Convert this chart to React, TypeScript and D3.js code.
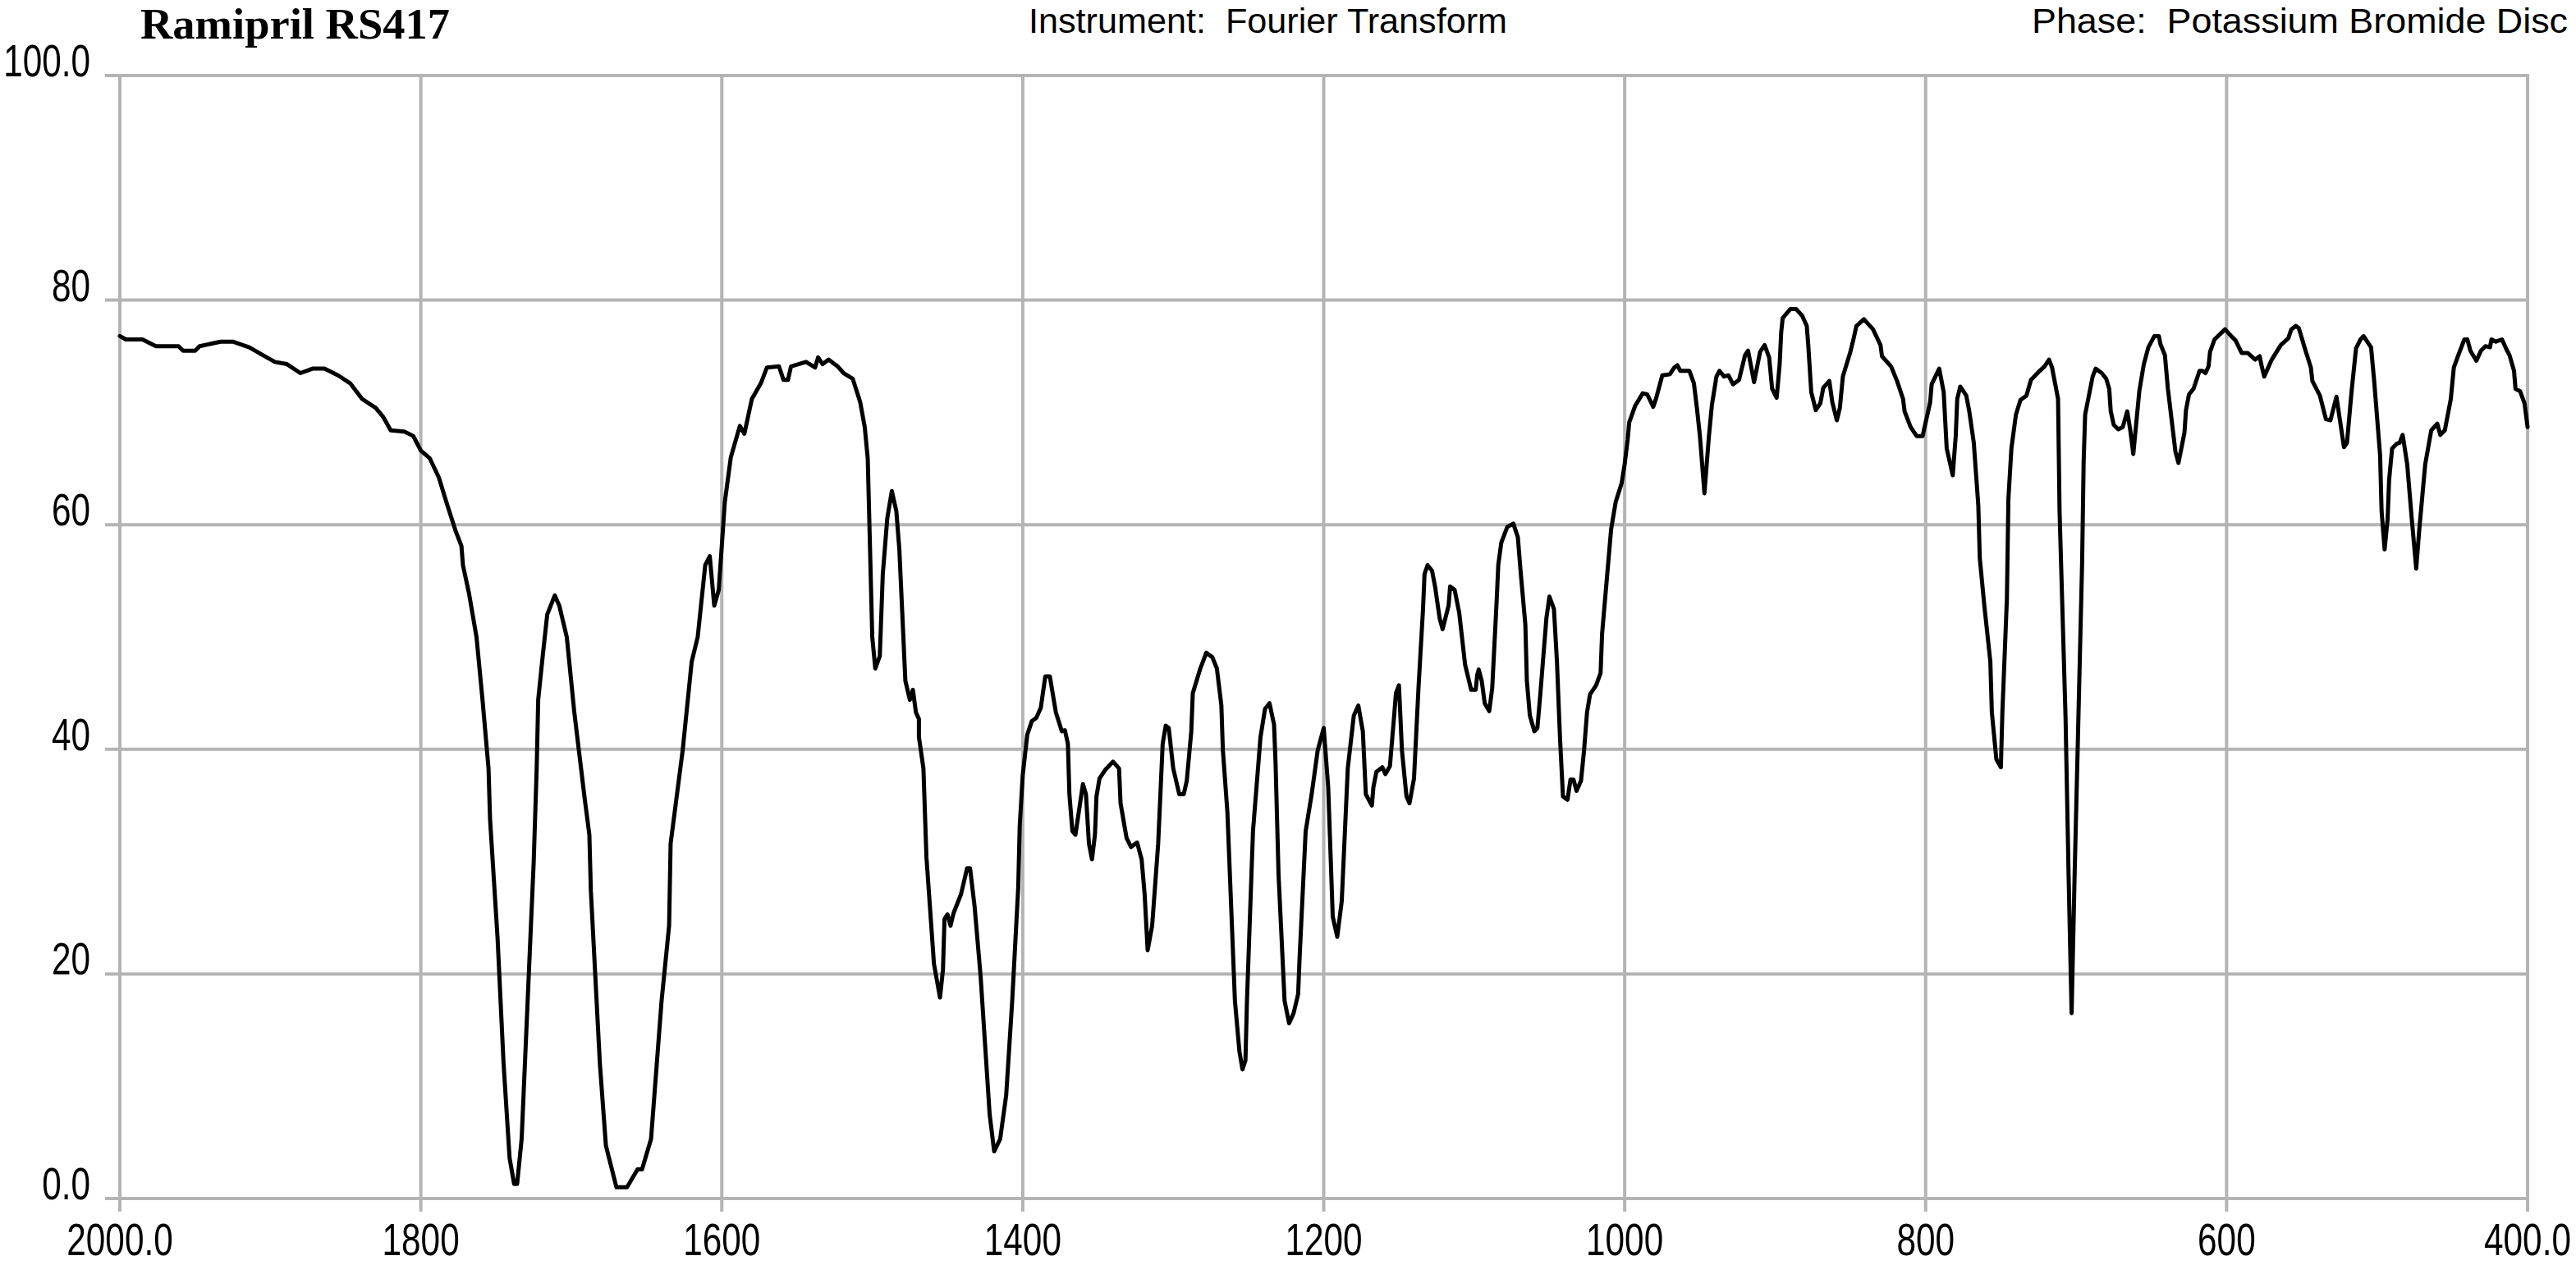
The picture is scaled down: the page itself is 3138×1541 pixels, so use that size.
import React from "react";
import * as d3 from "d3";

const wavenumbers: number[] = [
  2000, 1996, 1985, 1976, 1961, 1958, 1950, 1947, 1933, 1925, 1914, 1905, 1897, 1889, 1880, 1872, 1864, 1855, 1847, 1839,
  1830, 1825, 1820, 1811, 1805, 1800, 1794, 1788, 1783, 1777, 1773, 1772, 1768, 1763, 1759, 1755, 1754, 1749, 1745, 1741,
  1738, 1736, 1733, 1729, 1725, 1723, 1722, 1719, 1716, 1711, 1708, 1703, 1698, 1691, 1688, 1687, 1681, 1677, 1670, 1663,
  1656, 1653, 1647, 1640, 1635, 1634, 1626, 1620,
  1616, 1611, 1608, 1605, 1602, 1598, 1594, 1588, 1585, 1580, 1574, 1570, 1562, 1559, 1556, 1554, 1544, 1538, 1536, 1533,
  1529, 1523, 1519, 1513, 1508, 1505, 1503, 1502, 1500, 1498, 1495, 1493, 1490, 1487, 1484, 1482, 1478, 1475, 1473, 1471,
  1469, 1469, 1466, 1464, 1459, 1455, 1453, 1452, 1450, 1448, 1446, 1441, 1437, 1435, 1432, 1428, 1422, 1419, 1415, 1411,
  1407, 1403, 1402, 1400, 1397, 1394, 1391, 1388, 1385, 1382, 1378, 1374, 1372, 1370, 1369, 1367, 1365, 1360, 1358, 1356,
  1354, 1352, 1351, 1349, 1345, 1340, 1336, 1335, 1331, 1328, 1324, 1321, 1319, 1317, 1314, 1310, 1307, 1305, 1303, 1300,
  1296, 1293, 1291, 1288, 1287, 1282, 1278, 1274, 1271, 1268, 1267, 1264, 1259, 1256, 1254, 1252, 1251, 1247, 1242, 1239,
  1236, 1233, 1232, 1230, 1226, 1223, 1220, 1217, 1216, 1212, 1208, 1204, 1200,
  1197, 1194, 1191, 1188, 1184, 1180, 1177, 1174, 1172, 1168, 1167, 1165, 1161, 1159, 1156, 1153, 1152, 1150, 1148, 1145,
  1143, 1140, 1137, 1134, 1133, 1131, 1128, 1126, 1123, 1121, 1117, 1116, 1113, 1110, 1106, 1102, 1099, 1098, 1097, 1095,
  1093, 1090, 1088, 1085, 1084, 1082, 1078, 1074, 1071, 1069, 1066, 1065, 1063, 1060, 1058, 1056, 1052, 1050, 1047, 1045,
  1043, 1041, 1038, 1036, 1034, 1032, 1029, 1027, 1025, 1023, 1019, 1016, 1015, 1013, 1009, 1006, 1002, 1000, 998, 997,
  993, 988, 985, 981, 979, 975, 970, 967, 965, 963, 957, 954, 952, 950, 947, 944, 942, 939, 937, 934,
  931, 928, 924, 920, 918, 914, 910, 907, 904, 902, 899, 897, 896, 895, 890, 886, 882, 879, 878, 876,
  873, 870, 868, 864, 862, 859, 857, 855, 850, 848, 846, 841, 835, 830, 829, 823, 819, 815, 814, 810,
  806, 802,
  797, 796, 791, 788, 786, 782, 780, 779, 777, 773, 771, 768, 765, 764, 761, 757, 756, 753, 750, 749,
  746, 745, 743, 740, 737, 733, 730, 725, 721, 718, 716, 712, 711, 707, 705, 703, 701, 699, 696, 695,
  694, 689, 687, 683, 680, 678, 677, 675, 672, 669, 666, 664, 662, 658, 655, 652, 648, 645, 644, 641,
  639, 634, 632, 628, 627, 625, 622, 618, 616, 614, 612, 611, 608, 601, 597, 594, 590, 586, 581, 578,
  577, 575, 570, 564, 559, 557, 554, 552, 548, 544, 543, 538, 534, 531, 527, 522, 520, 517, 514, 511,
  509, 504, 502, 498, 497, 495, 493, 492, 490, 487, 485, 483, 480, 477, 474, 472, 468, 464, 460, 458,
  455, 451, 449, 446, 442, 440, 438, 434, 431, 428, 425, 424, 421, 417, 414, 412, 409, 408, 405, 402,
  400,
];

const transmittance: number[] = [
  76.8, 76.5, 76.5, 75.9, 75.9, 75.5, 75.5, 75.9, 76.3, 76.3, 75.8, 75.1, 74.5, 74.3, 73.5, 73.9, 73.9, 73.3, 72.6, 71.2,
  70.4, 69.6, 68.4, 68.3, 67.9, 66.6, 65.9, 64.2, 62.0, 59.5, 58.1, 56.4, 53.9, 50.0, 44.4, 38.3, 33.8, 23.2, 12.0, 3.6,
  1.3, 1.3, 5.3, 17.6, 29.9, 38.3, 44.4, 48.3, 52.0, 53.7, 52.8, 50.0, 43.3, 35.5, 32.4, 27.4, 12.0, 4.7, 1.0, 1.0,
  2.6, 2.6, 5.3, 17.6, 24.3, 31.6, 39.9, 47.8,
  50.0, 56.4, 57.2, 52.8, 54.2, 62.0, 66.0, 68.8, 68.1, 71.2, 72.6, 74.0, 74.1, 72.9, 72.9, 74.1, 74.5, 74.0, 74.9, 74.3,
  74.7, 74.1, 73.5, 73.0, 70.9, 68.7, 65.9, 60.6, 50.0, 47.2, 48.3, 55.6, 60.6, 63.0, 61.2, 57.8, 46.1, 44.4, 45.3, 43.3,
  42.7, 41.1, 38.3, 30.4, 20.9, 17.9, 20.4, 24.9, 25.3, 24.3, 25.4, 27.1, 29.4, 29.4, 26.0, 19.8, 7.5, 4.2, 5.3, 9.2,
  17.6, 27.7, 33.2, 37.7, 41.3, 42.5, 42.8, 43.7, 46.5, 46.5, 43.3, 41.6, 41.7, 40.5, 36.0, 32.7, 32.4, 36.9, 36.0, 31.6,
  30.2, 32.4, 35.8, 37.4, 38.2, 38.9, 38.3, 35.2, 32.1, 31.3, 31.7, 30.2, 27.1, 22.1, 24.3, 31.6, 40.5, 42.1, 41.9, 38.3,
  36.0, 36.0, 37.2, 41.6, 45.0, 47.2, 48.6, 48.2, 47.2, 43.9, 39.9, 34.4, 17.6, 13.1, 11.5, 12.3, 17.6, 32.7, 41.1, 43.6,
  44.1, 42.2, 38.8, 28.8, 17.6, 15.6, 16.5, 18.2, 21.5, 32.7, 36.0, 39.9, 41.9,
  36.6, 25.1, 23.3, 26.5, 38.3, 43.0, 43.9, 41.6, 36.0, 35.0, 36.6, 38.0, 38.4, 37.8, 38.5, 43.3, 45.0, 45.7, 39.9, 35.8,
  35.2, 37.4, 45.5, 52.5, 55.6, 56.4, 55.9, 54.5, 51.7, 50.7, 52.8, 54.5, 54.2, 52.2, 47.5, 45.3, 45.3, 46.6, 47.1, 46.1,
  44.1, 43.4, 45.5, 53.4, 56.4, 58.4, 59.8, 60.1, 58.9, 55.6, 51.1, 46.1, 43.0, 41.6, 41.9, 45.0, 51.7, 53.6, 52.5, 47.8,
  41.1, 35.8, 35.5, 37.3, 37.3, 36.3, 37.2, 39.9, 43.3, 44.9, 45.7, 46.8, 50.3, 53.4, 59.6, 62.0, 63.7, 65.4, 67.6, 69.1,
  70.6, 71.7, 71.6, 70.5, 71.3, 73.3, 73.4, 74.0, 74.2, 73.7, 73.7, 72.6, 70.4, 67.9, 62.8, 67.9, 70.7, 73.2, 73.7, 73.2,
  73.3, 72.5, 72.9, 75.1, 75.5, 72.7, 75.4, 76.0, 74.9, 72.1, 71.3, 74.3, 77.1, 78.4, 79.2, 79.2, 78.6, 77.7, 76.0, 71.8,
  70.2, 70.8, 72.2, 72.8, 70.9, 69.3, 70.4, 73.2, 75.4, 76.5, 77.7, 78.3, 77.4, 76.0, 75.0, 74.1, 72.8, 71.2, 70.1, 68.7,
  67.9, 67.9,
  70.9, 72.5, 73.9, 71.8, 66.8, 64.4, 67.9, 71.2, 72.3, 71.5, 70.1, 67.3, 61.7, 57.0, 52.8, 47.8, 43.3, 39.1, 38.4, 43.3,
  53.4, 62.3, 66.8, 69.8, 71.1, 71.5, 72.9, 73.6, 74.1, 74.7, 74.0, 71.2, 61.2, 42.7, 28.8, 16.5, 28.8, 39.9, 56.7, 65.6,
  69.8, 73.2, 73.9, 73.5, 73.0, 72.1, 70.1, 68.9, 68.5, 68.7, 70.1, 68.4, 66.3, 71.9, 74.3, 75.8, 76.8, 76.8, 76.1, 75.1,
  72.1, 66.5, 65.5, 68.2, 70.2, 71.6, 72.1, 73.7, 73.7, 73.5, 74.1, 75.4, 76.5, 77.4, 76.8, 76.4, 75.3, 75.3, 74.7, 75.0,
  74.3, 73.2, 74.7, 76.0, 76.6, 77.4, 77.7, 77.5, 75.7, 74.0, 72.8, 71.5, 69.4, 69.3, 71.4, 66.9, 67.3, 71.8, 75.7, 76.5,
  76.8, 75.8, 72.9, 66.2, 61.2, 57.8, 60.5, 64.0, 66.8, 67.2, 67.3, 68.0, 65.4, 60.6, 56.1, 59.5, 65.4, 68.4, 69.0, 68.0,
  68.4, 71.2, 74.0, 75.1, 76.5, 76.5, 75.5, 74.6, 75.5, 75.9, 75.8, 76.5, 76.3, 76.5, 75.6, 75.1, 73.7, 72.1, 71.9, 70.8,
  68.7,
];

const xTicks: number[] = [2000, 1800, 1600, 1400, 1200, 1000, 800, 600, 400];
const xTickLabels: string[] = ["2000.0", "1800", "1600", "1400", "1200", "1000", "800", "600", "400.0"];
const yTicks: number[] = [0, 20, 40, 60, 80, 100];
const yTickLabels: string[] = ["0.0", "20", "40", "60", "80", "100.0"];

const title = "Ramipril RS417";
const instrumentText = "Instrument:  Fourier Transform";
const phaseText = "Phase:  Potassium Bromide Disc";

export default function App() {
  const W = 3138;
  const H = 1541;
  const x = d3.scaleLinear().domain([2000, 400]).range([146, 3079]);
  const y = d3.scaleLinear().domain([0, 100]).range([1460, 92]);
  const gridColor = "#b4b4b4";
  const labelFont = "'Liberation Sans', Arial, sans-serif";
  const sx = 0.755;

  const pts = wavenumbers.map((w, i) => [w, transmittance[i]] as [number, number]);
  const line = d3
    .line<[number, number]>()
    .x((d) => x(d[0]))
    .y((d) => y(d[1]))
    .curve(d3.curveLinear);

  return (
    <svg
      width={W}
      height={H}
      style={{ position: "absolute", left: 0, top: 0, background: "#fff" }}
    >
      <rect x={0} y={0} width={W} height={H} fill="#fff" />
      {yTicks.map((t) => (
        <line
          key={"hy" + t}
          x1={128}
          x2={x(400) + 2}
          y1={y(t)}
          y2={y(t)}
          stroke={gridColor}
          strokeWidth={4}
        />
      ))}
      {xTicks.map((t) => (
        <line
          key={"vx" + t}
          x1={x(t)}
          x2={x(t)}
          y1={y(100)}
          y2={1476}
          stroke={gridColor}
          strokeWidth={4}
        />
      ))}
      {yTicks.map((t, i) => (
        <g key={"yl" + t} transform={`translate(110,${y(t) + 1}) scale(${sx},1)`}>
          <text textAnchor="end" fontFamily={labelFont} fontSize={56} fill="#000">
            {yTickLabels[i]}
          </text>
        </g>
      ))}
      {xTicks.map((t, i) => (
        <g key={"xl" + t} transform={`translate(${x(t)},1529) scale(${sx},1)`}>
          <text textAnchor="middle" fontFamily={labelFont} fontSize={56} fill="#000">
            {xTickLabels[i]}
          </text>
        </g>
      ))}
      <path
        d={line(pts) || ""}
        fill="none"
        stroke="#000"
        strokeWidth={5}
        strokeLinejoin="round"
        strokeLinecap="round"
      />
      <text
        x={171}
        y={47}
        fontFamily="'Liberation Serif', 'Times New Roman', serif"
        fontWeight="bold"
        fontSize={52}
        fill="#000"
        textLength={377}
        lengthAdjust="spacingAndGlyphs"
      >
        {title}
      </text>
      <text
        x={1253}
        y={40}
        fontFamily={labelFont}
        fontSize={43}
        fill="#000"
        style={{ whiteSpace: "pre" }}
        textLength={583}
        lengthAdjust="spacingAndGlyphs"
      >
        {instrumentText}
      </text>
      <text
        x={2475}
        y={40}
        fontFamily={labelFont}
        fontSize={43}
        fill="#000"
        style={{ whiteSpace: "pre" }}
        textLength={653}
        lengthAdjust="spacingAndGlyphs"
      >
        {phaseText}
      </text>
    </svg>
  );
}
